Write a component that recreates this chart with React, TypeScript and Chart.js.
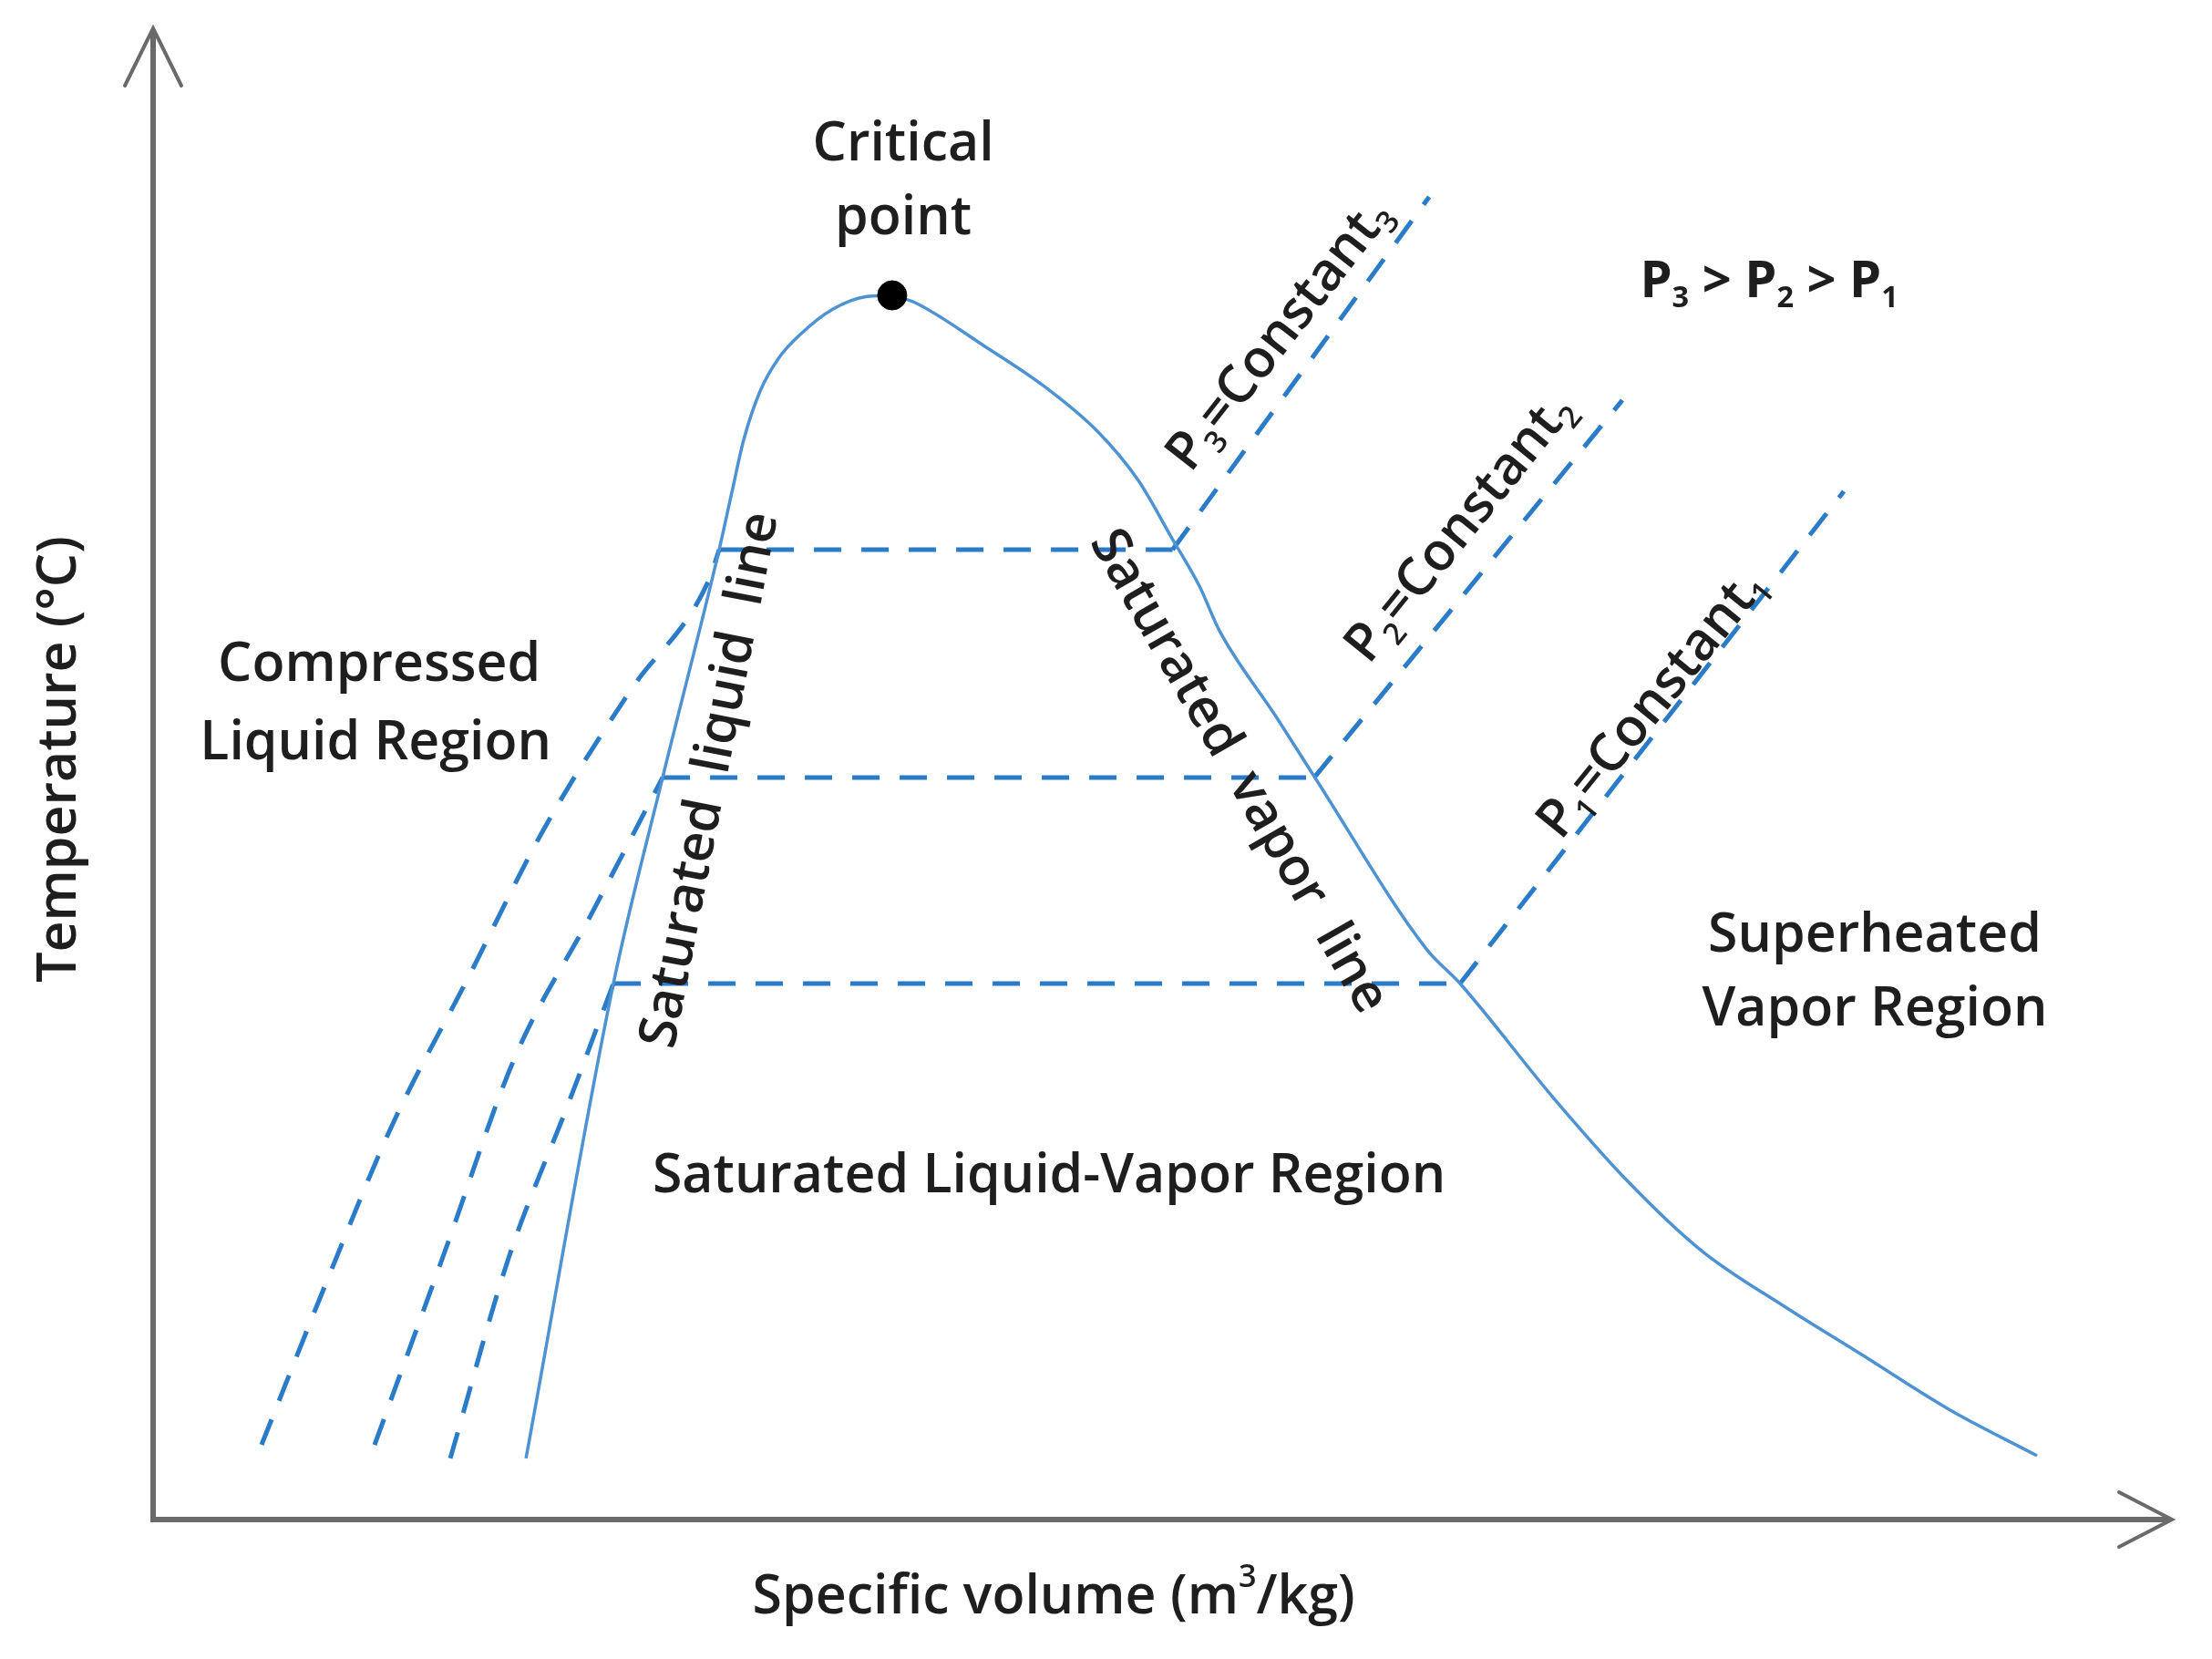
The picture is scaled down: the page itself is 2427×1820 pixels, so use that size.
import React, { useEffect, useRef } from "react";
import { Chart, registerables } from "chart.js";

Chart.register(...registerables);

// ---------- Data (arbitrary schematic units: specific volume v, temperature T) ----------
const satLiquidV = [18.47, 22.8, 25.24, 28.04, 28.67, 29.26, 30.07, 31.0, 32.1, 33.68, 35.3, 36.61];
const satLiquidT = [4.1, 35.94, 49.76, 65.04, 68.89, 72.43, 75.67, 77.9, 79.52, 81.17, 82.0, 82.09];

const satVaporV = [36.61, 37.74, 41.13, 44.15, 46.77, 48.8, 50.43, 51.83, 52.82, 55.62, 57.52, 63.07, 64.74, 69.35, 73.05, 76.7, 80.86, 84.56, 88.94, 93.32];
const satVaporT = [82.09, 81.6, 78.73, 75.98, 72.98, 69.68, 65.89, 62.59, 59.6, 53.85, 49.82, 38.26, 35.94, 28.3, 22.68, 18.03, 14.24, 11.12, 7.4, 4.28];

const criticalV = [36.61];
const criticalT = [82.09];

// isobar temperatures (saturation temperature for each pressure)
const isobarNames = ["P3", "P2", "P1"];
const isobarT = [65.04, 49.76, 35.94];
const isobarLiquidV = [28.04, 25.24, 22.8];
const isobarVaporV = [50.5, 57.52, 64.74];
const isobarEndV = [63.21, 72.78, 83.75];
const isobarEndT = [88.69, 75.06, 68.95];

// compressed-liquid branches of each isobar
const compP3V = [5.37, 8.67, 11.87, 15.62, 19.32, 23.66, 27.54, 28.04];
const compP3T = [5.01, 16.2, 26.53, 36.37, 46.21, 55.62, 63.02, 65.04];
const compP2V = [10.97, 14.45, 17.92, 21.63, 25.24];
const compP2T = [5.01, 17.97, 30.99, 40.4, 49.76];
const compP1V = [14.72, 17.61, 20.6, 22.8];
const compP1T = [4.1, 17.54, 28.0, 35.94];

const axisTitleX = "Specific volume (m";
const axisTitleY = "Temperature (°C)";

// ---------- Annotation layout ----------
type Seg = { t: string; sub?: boolean; sup?: boolean };
type Label = {
  segs: Seg[];
  x: number;
  y: number;
  angle: number;
  mode: "baseline" | "middle";
  size: number;
  bold?: boolean;
};

const LABELS: Label[] = [
  { segs: [{ t: "Critical" }], x: 37.16, y: 91.14, angle: 0, mode: "baseline", size: 59 },
  { segs: [{ t: "point" }], x: 37.16, y: 86.19, angle: 0, mode: "baseline", size: 59 },
  { segs: [{ t: "Compressed" }], x: 11.2, y: 56.23, angle: 0, mode: "baseline", size: 59 },
  { segs: [{ t: "Liquid Region" }], x: 11.02, y: 50.98, angle: 0, mode: "baseline", size: 59 },
  { segs: [{ t: "Saturated Liquid-Vapor Region" }], x: 44.38, y: 21.94, angle: 0, mode: "baseline", size: 59 },
  { segs: [{ t: "Superheated" }], x: 85.28, y: 38.08, angle: 0, mode: "baseline", size: 59 },
  { segs: [{ t: "Vapor Region" }], x: 85.28, y: 33.13, angle: 0, mode: "baseline", size: 59 },
  {
    segs: [{ t: "P" }, { t: "3", sub: true }, { t: " > P" }, { t: "2", sub: true }, { t: " > P" }, { t: "1", sub: true }],
    x: 80.05, y: 81.97, angle: 0, mode: "baseline", size: 56, bold: true,
  },
  { segs: [{ t: "Saturated  liquid  line" }], x: 27.67, y: 49.57, angle: -79, mode: "middle", size: 58 },
  { segs: [{ t: "Saturated  vapor  line" }], x: 53.72, y: 50.12, angle: 60.2, mode: "middle", size: 58 },
  {
    segs: [{ t: "P" }, { t: "3", sub: true }, { t: "=Constant" }, { t: "3", sub: true }],
    x: 55.85, y: 79.4, angle: -52, mode: "middle", size: 58,
  },
  {
    segs: [{ t: "P" }, { t: "2", sub: true }, { t: "=Constant" }, { t: "2", sub: true }],
    x: 64.79, y: 66.44, angle: -51, mode: "middle", size: 58,
  },
  {
    segs: [{ t: "P" }, { t: "1", sub: true }, { t: "=Constant" }, { t: "1", sub: true }],
    x: 74.31, y: 54.65, angle: -51, mode: "middle", size: 58,
  },
  { segs: [{ t: axisTitleY }], x: -3.84, y: 50.98, angle: -90, mode: "baseline", size: 59 },
  {
    segs: [{ t: axisTitleX }, { t: "3", sup: true }, { t: "/kg)" }],
    x: 44.61, y: -6.3, angle: 0, mode: "baseline", size: 59,
  },
];

const FONT_FAMILY = '"Open Sans", "DejaVu Sans", sans-serif';
const TEXT_WEIGHT = "600";
const TEXT_COLOR = "#1e1e1e";
const SOLID_BLUE = "#4d92d2";
const DASH_BLUE = "#2a7bc8";
const AXIS_GREY = "#6a6a6a";

function pts(xs: number[], ys: number[]) {
  return xs.map((x, i) => ({ x, y: ys[i] }));
}

function drawRich(ctx: CanvasRenderingContext2D, l: Label, px: number, py: number) {
  const weight = l.bold ? "700" : TEXT_WEIGHT;
  const small = l.size * 0.58;
  const fontFor = (s: Seg) => `${weight} ${s.sub || s.sup ? small : l.size}px ${FONT_FAMILY}`;
  const widths = l.segs.map((s) => {
    ctx.font = fontFor(s);
    return ctx.measureText(s.t).width;
  });
  const total = widths.reduce((a, b) => a + b, 0);
  ctx.save();
  ctx.translate(px, py);
  ctx.rotate((l.angle * Math.PI) / 180);
  ctx.fillStyle = TEXT_COLOR;
  ctx.textBaseline = "alphabetic";
  ctx.textAlign = "left";
  const baseDy = l.mode === "middle" ? l.size * 0.27 : 0;
  let cx = -total / 2;
  l.segs.forEach((s, i) => {
    ctx.font = fontFor(s);
    const dy = s.sub ? l.size * 0.2 : s.sup ? -l.size * 0.5 : 0;
    ctx.fillText(s.t, cx, baseDy + dy);
    cx += widths[i];
  });
  ctx.restore();
}

const diagramPlugin = {
  id: "diagram",
  beforeDatasetsDraw(chart: any) {
    const { ctx, scales } = chart;
    const xs = scales.x;
    const ys = scales.y;
    const x0 = xs.getPixelForValue(0);
    const y0 = ys.getPixelForValue(0);
    const xEnd = xs.getPixelForValue(xs.max);
    const yEnd = ys.getPixelForValue(ys.max);
    ctx.save();
    ctx.strokeStyle = AXIS_GREY;
    ctx.lineWidth = 6;
    ctx.lineCap = "butt";
    ctx.lineJoin = "miter";
    ctx.beginPath();
    ctx.moveTo(x0, yEnd + 2);
    ctx.lineTo(x0, y0);
    ctx.lineTo(xEnd - 2, y0);
    ctx.stroke();
    // arrow heads (open V)
    ctx.lineWidth = 4;
    ctx.lineCap = "round";
    ctx.beginPath();
    ctx.moveTo(x0 - 31, yEnd + 63);
    ctx.lineTo(x0, yEnd);
    ctx.lineTo(x0 + 31, yEnd + 63);
    ctx.stroke();
    ctx.beginPath();
    ctx.moveTo(xEnd - 58, y0 - 30);
    ctx.lineTo(xEnd, y0);
    ctx.lineTo(xEnd - 58, y0 + 30);
    ctx.stroke();
    ctx.restore();
  },
  afterDatasetsDraw(chart: any) {
    const { ctx, scales } = chart;
    LABELS.forEach((l) => {
      drawRich(ctx, l, scales.x.getPixelForValue(l.x), scales.y.getPixelForValue(l.y));
    });
  },
};

export default function App() {
  const ref = useRef<HTMLCanvasElement | null>(null);

  useEffect(() => {
    if (!ref.current) return;
    const dashed = {
      showLine: true,
      borderColor: DASH_BLUE,
      borderWidth: 5,
      borderDash: [30, 22],
      pointRadius: 0,
      fill: false,
      order: 2,
    };
    const datasets: any[] = [
      {
        label: "Critical point",
        data: pts(criticalV, criticalT),
        showLine: false,
        pointRadius: 16,
        pointBackgroundColor: "#000",
        pointBorderColor: "#000",
        order: 0,
      },
      {
        label: "Saturated liquid line",
        data: pts(satLiquidV, satLiquidT),
        showLine: true,
        borderColor: SOLID_BLUE,
        borderWidth: 3.5,
        pointRadius: 0,
        cubicInterpolationMode: "monotone",
        order: 1,
      },
      {
        label: "Saturated vapor line",
        data: pts(satVaporV, satVaporT),
        showLine: true,
        borderColor: SOLID_BLUE,
        borderWidth: 3.5,
        pointRadius: 0,
        cubicInterpolationMode: "monotone",
        order: 1,
      },
      { ...dashed, label: "P3 compressed", data: pts(compP3V, compP3T), cubicInterpolationMode: "monotone" },
      { ...dashed, label: "P2 compressed", data: pts(compP2V, compP2T), cubicInterpolationMode: "monotone" },
      { ...dashed, label: "P1 compressed", data: pts(compP1V, compP1T), cubicInterpolationMode: "monotone" },
    ];
    isobarNames.forEach((name, i) => {
      datasets.push({
        ...dashed,
        label: name + " saturated",
        data: [
          { x: isobarLiquidV[i], y: isobarT[i] },
          { x: isobarVaporV[i], y: isobarT[i] },
        ],
      });
      datasets.push({
        ...dashed,
        label: name + " superheated",
        data: [
          { x: isobarVaporV[i], y: isobarT[i] },
          { x: isobarEndV[i], y: isobarEndT[i] },
        ],
      });
    });

    const chart = new Chart(ref.current, {
      type: "scatter",
      data: { datasets },
      options: {
        animation: false,
        responsive: false,
        devicePixelRatio: 1,
        layout: { padding: { left: 168, right: 44, top: 31, bottom: 153 } },
        plugins: { legend: { display: false }, tooltip: { enabled: false } },
        scales: {
          x: { type: "linear", min: 0, max: 100, display: false },
          y: { type: "linear", min: 0, max: 100, display: false },
        },
      },
      plugins: [diagramPlugin],
    } as any);
    return () => chart.destroy();
  }, []);

  return (
    <div style={{ position: "absolute", left: 0, top: 0, width: 2427, height: 1820, background: "#fff" }}>
      <canvas ref={ref} width={2427} height={1820} style={{ display: "block", width: 2427, height: 1820 }} />
    </div>
  );
}
